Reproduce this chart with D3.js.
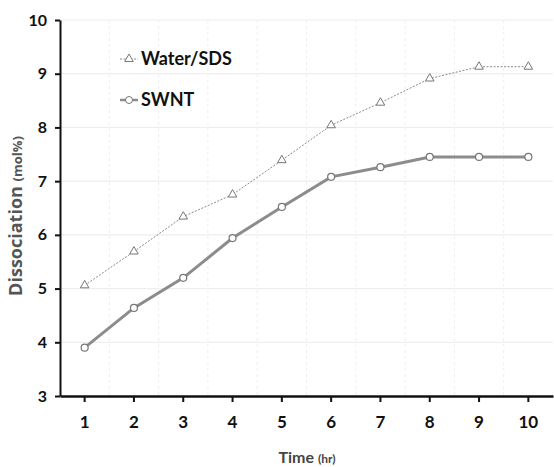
<!DOCTYPE html>
<html>
<head>
<meta charset="utf-8">
<script src="https://cdn.jsdelivr.net/npm/d3@7"></script>
<style>
  body { margin: 0; background: #fff; }
  text { font-family: Lato, "Open Sans", sans-serif; }
  .y-title { font-family: "Open Sans", sans-serif; }
</style>
</head>
<body>
<div id="chart"></div>
<script>
// Data
const hours = [1, 2, 3, 4, 5, 6, 7, 8, 9, 10];
const waterSds = [5.06, 5.69, 6.34, 6.75, 7.39, 8.04, 8.46, 8.91, 9.13, 9.13];
const swnt = [3.9, 4.64, 5.2, 5.94, 6.52, 7.08, 7.26, 7.45, 7.45, 7.45];
const yTicks = [3, 4, 5, 6, 7, 8, 9, 10];

const width = 554, height = 467;
const margin = { top: 20, right: 1, bottom: 71, left: 60 };
const innerWidth = width - margin.left - margin.right;
const innerHeight = height - margin.top - margin.bottom;

const svg = d3.select("#chart")
  .append("svg")
    .attr("width", width)
    .attr("height", height);

const innerChart = svg.append("g")
  .attr("transform", `translate(${margin.left}, ${margin.top})`);

// Scales
const xScale = d3.scaleBand()
  .domain(hours)
  .range([0, innerWidth]);
const xPos = d => xScale(d) + xScale.bandwidth() / 2;

const yScale = d3.scaleLinear()
  .domain([3, 10])
  .range([innerHeight, 0]);

// Gridlines
innerChart.append("g")
  .selectAll("line")
  .data(yTicks.slice(1))
  .join("line")
    .attr("x1", 0)
    .attr("x2", innerWidth)
    .attr("y1", d => yScale(d))
    .attr("y2", d => yScale(d))
    .attr("stroke", "#eeeeee")
    .attr("stroke-width", 1.2);

innerChart.append("g")
  .selectAll("line")
  .data(hours.slice(1))
  .join("line")
    .attr("x1", d => xScale(d))
    .attr("x2", d => xScale(d))
    .attr("y1", 0)
    .attr("y2", innerHeight)
    .attr("stroke", "#eeeeee")
    .attr("stroke-dasharray", "3,3");

// Axes
const leftAxis = d3.axisLeft(yScale)
  .tickValues(yTicks)
  .tickFormat(d3.format("d"))
  .tickSize(5)
  .tickPadding(8)
  .tickSizeOuter(0);
const yAxis = innerChart.append("g").call(leftAxis);
yAxis.select(".domain").attr("stroke", "#111").attr("stroke-width", 2);
yAxis.selectAll(".tick line").attr("stroke", "#111").attr("stroke-width", 2);
yAxis.selectAll("text")
  .attr("font-size", 16)
  .attr("font-weight", "bold")
  .attr("fill", "#111");

const bottomAxis = d3.axisBottom(xScale)
  .tickSize(6)
  .tickPadding(14)
  .tickSizeOuter(0);
const xAxis = innerChart.append("g")
  .attr("transform", `translate(0, ${innerHeight})`)
  .call(bottomAxis);
xAxis.select(".domain").attr("stroke", "#111").attr("stroke-width", 2.5);
xAxis.selectAll(".tick line").attr("stroke", "#111").attr("stroke-width", 2);
xAxis.selectAll("text")
  .attr("font-size", 17)
  .attr("font-weight", "bold")
  .attr("fill", "#111");

// Lines
const line = d3.line()
  .x((d, i) => xPos(hours[i]))
  .y(d => yScale(d));

innerChart.append("path")
  .datum(waterSds)
  .attr("d", line)
  .attr("fill", "none")
  .attr("stroke", "#8a8a8a")
  .attr("stroke-width", 1)
  .attr("stroke-dasharray", "2,1.5");

innerChart.append("path")
  .datum(swnt)
  .attr("d", line)
  .attr("fill", "none")
  .attr("stroke", "#8c8c8c")
  .attr("stroke-width", 3);

const triangle = d3.symbol().type(d3.symbolTriangle).size(32);

innerChart.selectAll(".tri")
  .data(waterSds)
  .join("path")
    .attr("class", "tri")
    .attr("d", triangle)
    .attr("transform", (d, i) => `translate(${xPos(hours[i])}, ${yScale(d)})`)
    .attr("fill", "#fff")
    .attr("stroke", "#777")
    .attr("stroke-width", 1);

innerChart.selectAll(".dot")
  .data(swnt)
  .join("circle")
    .attr("class", "dot")
    .attr("cx", (d, i) => xPos(hours[i]))
    .attr("cy", d => yScale(d))
    .attr("r", 3.5)
    .attr("fill", "#fff")
    .attr("stroke", "#777")
    .attr("stroke-width", 1.2);

// Legend
const legend = svg.append("g");
legend.append("line")
  .attr("x1", 120).attr("x2", 138).attr("y1", 59).attr("y2", 59)
  .attr("stroke", "#8a8a8a").attr("stroke-dasharray", "2,1.5");
legend.append("path")
  .attr("d", triangle)
  .attr("transform", "translate(129, 59)")
  .attr("fill", "#fff").attr("stroke", "#777");
legend.append("text")
  .attr("x", 141).attr("y", 65)
  .attr("font-size", 18).attr("font-weight", "bold").attr("fill", "#111")
  .text("Water/SDS");

legend.append("line")
  .attr("x1", 120).attr("x2", 138).attr("y1", 100).attr("y2", 100)
  .attr("stroke", "#8c8c8c").attr("stroke-width", 2.5);
legend.append("circle")
  .attr("cx", 129).attr("cy", 100).attr("r", 3.5)
  .attr("fill", "#fff").attr("stroke", "#777");
legend.append("text")
  .attr("x", 141).attr("y", 106)
  .attr("font-size", 18).attr("font-weight", "bold").attr("fill", "#111")
  .text("SWNT");

// Axis titles
const xTitle = svg.append("text")
  .attr("x", 307).attr("y", 463)
  .attr("text-anchor", "middle")
  .attr("font-size", 16).attr("font-weight", "bold").attr("fill", "#444");
xTitle.append("tspan").text("Time ");
xTitle.append("tspan").attr("font-size", 12).text("(hr)");

const yTitle = svg.append("text")
  .attr("class", "y-title")
  .attr("transform", "translate(22, 216) rotate(-90)")
  .attr("text-anchor", "middle")
  .attr("font-size", 18).attr("font-weight", "bold").attr("fill", "#555");
yTitle.append("tspan").text("Dissociation ");
yTitle.append("tspan").attr("font-size", 13).text("(mol%)");
</script>
</body>
</html>
